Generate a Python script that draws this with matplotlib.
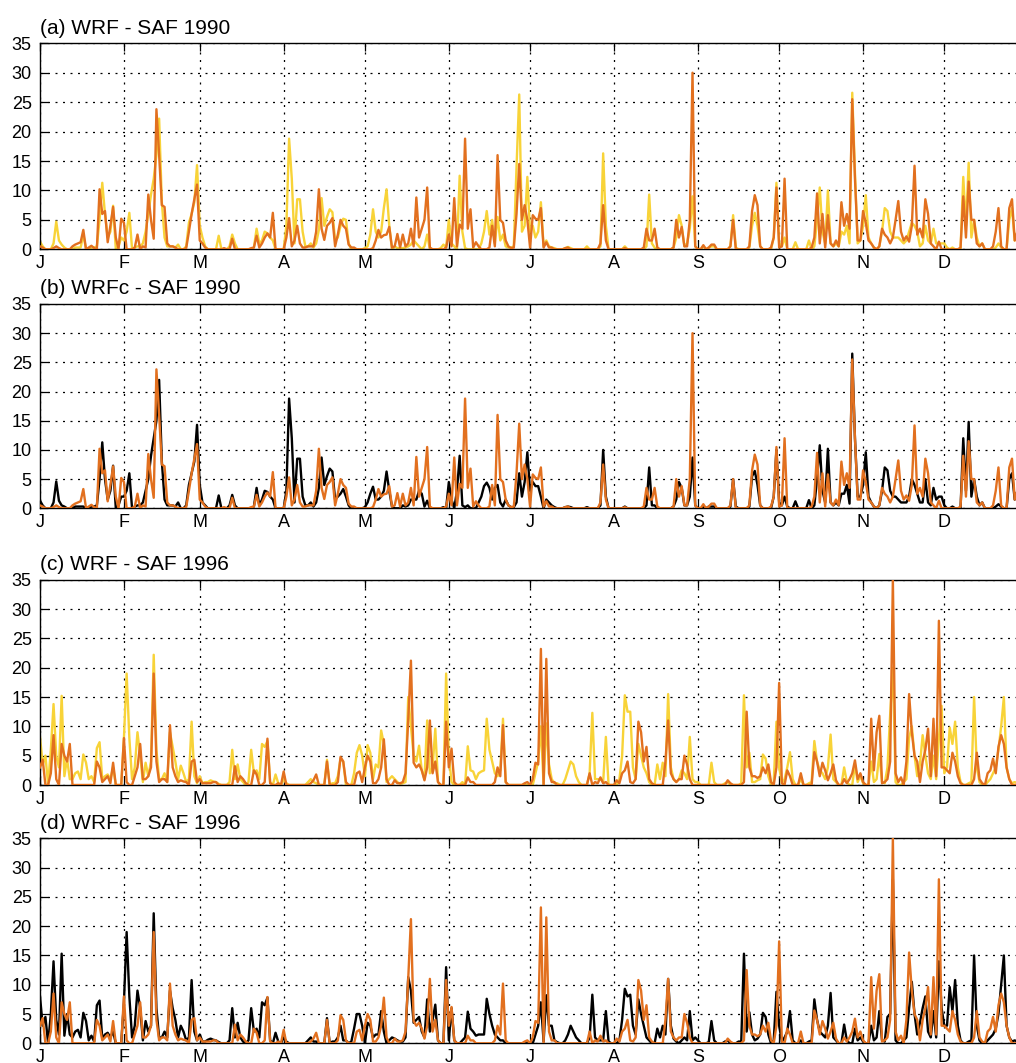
import numpy as np
import matplotlib
matplotlib.use("Agg")
import matplotlib.pyplot as plt

plt.rcParams["font.family"] = ["Liberation Sans", "DejaVu Sans"]

# Daily precipitation (mm/day), Jan 1 .. Dec 31, ten days per row
saf_1990 = [
    0.5, 0.3, 0, 0, 0, 0.2, 0.5, 0.2, 0, 0,
    0, 0, 0.5, 0.8, 1.0, 1.2, 3.3, 0, 0.3, 0.6,
    0.2, 0, 10.2, 6.0, 6.5, 1.2, 4.0, 7.2, 2.0, 0,
    5.2, 4.5, 0, 0, 0, 0.3, 2.5, 0, 0.5, 0.3,
    9.3, 5.0, 1.8, 23.8, 16.0, 7.5, 7.2, 1.0, 0.5, 0.5,
    0.3, 0, 0, 0, 0.2, 3.0, 6.0, 8.5, 11.0, 1.5,
    1.0, 0.3, 0, 0, 0, 0, 0, 0, 0.2, 0,
    0, 1.8, 0, 0, 0, 0, 0, 0, 0.2, 0.3,
    2.3, 0.3, 1.0, 2.0, 2.7, 2.0, 6.2, 0, 0, 0,
    0, 2.0, 5.3, 0.5, 1.5, 4.0, 1.0, 0.3, 0.3, 0.5,
    0.5, 0.5, 3.0, 10.2, 3.5, 1.6, 4.0, 4.5, 5.3, 0.5,
    2.5, 5.0, 4.0, 3.5, 0.8, 0.3, 0.3, 0, 0, 0,
    0, 0, 0, 0.2, 1.5, 3.3, 2.0, 2.4, 2.5, 3.8,
    0.3, 0.5, 2.6, 0.3, 2.5, 0.5, 1.0, 3.5, 0.5, 8.8,
    2.0, 3.5, 5.0, 10.5, 0.3, 0, 0, 0, 0, 0,
    0.3, 2.5, 0.5, 8.7, 0.5, 4.2, 3.5, 18.8, 3.5, 6.8,
    0.3, 1.2, 0.5, 0, 0, 0, 0.3, 4.0, 0.5, 16.0,
    5.0, 4.5, 1.5, 0.5, 0.2, 0.3, 6.0, 14.5, 5.0, 7.5,
    5.0, 0.3, 5.8, 5.2, 5.0, 7.0, 0.3, 1.2, 0.3, 0.3,
    0, 0, 0, 0, 0.2, 0.3, 0, 0, 0, 0,
    0, 0, 0, 0, 0, 0, 0, 1.0, 7.5, 1.5,
    0, 0, 0, 0, 0, 0, 0.2, 0, 0, 0,
    0, 0, 0, 0.3, 3.5, 1.5, 1.5, 3.5, 0.3, 0,
    0, 0, 0, 0, 0.3, 5.0, 2.0, 3.8, 0.5, 0.5,
    5.0, 30.0, 0.5, 0, 0, 0.7, 0, 0.3, 0.8, 0.8,
    0, 0, 0, 0, 0, 0.5, 5.0, 0, 0, 0,
    0, 0, 0.5, 6.5, 9.2, 7.5, 0.5, 0, 0, 0,
    0.3, 2.0, 10.5, 0.3, 0.5, 12.0, 0, 0, 0, 0,
    0, 0, 0, 0, 0, 0.3, 2.0, 9.5, 1.0, 6.0,
    0.3, 5.8, 1.0, 0.5, 1.5, 0.5, 8.0, 4.0, 6.0, 3.5,
    25.5, 12.0, 1.5, 1.5, 6.5, 4.5, 1.5, 1.0, 0.3, 0,
    0.5, 3.5, 2.5, 2.0, 1.0, 2.0, 5.0, 8.2, 3.0, 1.5,
    2.2, 1.3, 4.0, 14.2, 2.5, 3.5, 2.0, 8.5, 6.0, 1.0,
    0.5, 0, 1.3, 0, 0, 0, 0, 0, 0, 0,
    0.3, 9.0, 2.0, 11.5, 5.0, 5.0, 1.0, 0.5, 1.0, 0,
    0, 0, 0.5, 3.0, 7.0, 0.5, 0, 0, 7.0, 8.5,
    1.5, 3.0, 5.0, 2.0, 1.0,
]

wrf_1990 = [
    1.3, 0.5, 0, 0, 0, 1.0, 4.7, 1.5, 0.8, 0.3,
    0, 0, 0, 0.3, 0.3, 0.3, 2.5, 0, 0, 0.3,
    0.3, 0.5, 5.0, 11.3, 6.0, 2.0, 3.0, 7.4, 0, 0.5,
    2.0, 1.5, 3.0, 6.2, 0, 0.3, 0.5, 0.5, 1.0, 3.0,
    6.0, 9.3, 12.0, 16.0, 22.2, 8.0, 2.0, 0.5, 0.5, 0.5,
    0.3, 0.8, 0, 0, 0.5, 4.5, 6.0, 8.0, 14.3, 4.0,
    2.0, 0.5, 0, 0, 0, 0, 2.3, 0, 0, 0,
    0.5, 2.5, 1.0, 0, 0, 0, 0, 0, 0, 0.3,
    3.5, 1.0, 1.5, 3.0, 2.7, 2.0, 1.5, 0, 0, 0,
    0, 4.0, 18.8, 12.0, 1.0, 8.5, 8.5, 3.0, 0.5, 0.5,
    1.0, 0.3, 1.0, 3.3, 8.7, 4.0, 5.5, 6.8, 6.3, 1.5,
    2.0, 4.0, 5.2, 5.0, 1.0, 0, 0, 0, 0, 0,
    0.2, 0.5, 2.5, 6.8, 3.0, 2.0, 3.0, 7.0, 10.2, 4.0,
    0, 0.5, 0.2, 0.2, 0.2, 0.3, 0.5, 0.8, 1.5, 1.0,
    0.5, 0, 0.5, 2.5, 0, 0, 0, 0, 0.2, 0.8,
    0.3, 5.0, 1.0, 0.5, 0, 12.5, 3.0, 0.2, 0, 0,
    0, 0, 0, 1.0, 3.0, 6.5, 2.5, 5.0, 1.0, 5.5,
    1.5, 2.5, 0.5, 0.3, 0.3, 0.5, 14.0, 26.3, 3.0, 4.0,
    12.3, 3.0, 4.0, 2.0, 3.0, 8.0, 0.5, 1.5, 0.5, 0.3,
    0.2, 0, 0, 0, 0.2, 0.4, 0.2, 0, 0, 0,
    0, 0, 0.5, 0, 0, 0, 0, 0.5, 16.3, 4.0,
    0, 0, 0, 0, 0, 0, 0.5, 0, 0, 0,
    0, 0, 0, 0, 0.5, 9.3, 1.0, 0.3, 0, 0,
    0, 0, 0, 0, 0.3, 2.0, 5.8, 4.0, 0.5, 1.0,
    3.5, 9.0, 0.5, 0, 0, 0.5, 0, 0.3, 0.5, 0.5,
    0, 0, 0, 0, 0, 0.5, 5.8, 0.3, 0, 0,
    0, 0, 0.3, 4.0, 6.2, 4.0, 0.5, 0, 0, 0,
    0, 2.0, 11.3, 1.0, 0.5, 2.0, 0, 0, 0, 1.2,
    0, 0, 0, 0, 1.5, 0, 0.5, 5.0, 10.5, 3.0,
    1.0, 10.0, 1.0, 0.5, 1.0, 0.5, 3.0, 2.5, 4.0, 1.0,
    26.6, 13.0, 1.0, 1.5, 4.0, 9.2, 2.0, 1.0, 0.3, 0,
    0.5, 3.0, 7.0, 6.5, 3.0, 2.0, 2.0, 2.0, 1.5, 1.0,
    1.5, 3.0, 4.5, 4.0, 3.0, 0.5, 1.0, 4.0, 1.5, 1.0,
    3.5, 1.0, 1.0, 1.0, 1.0, 0.3, 0, 0.3, 0, 0,
    0, 12.3, 4.0, 14.7, 2.0, 5.0, 2.0, 0.5, 1.0, 0,
    0, 0, 0, 0.3, 1.0, 0.3, 0, 0, 5.0, 7.0,
    1.5, 3.0, 5.0, 2.0, 1.0,
]

wrfc_1990 = [
    1.3, 0.5, 0, 0, 0, 1.0, 4.6, 1.3, 0.5, 0.3,
    0, 0, 0, 0.3, 0.3, 0.3, 0.3, 0, 0, 0.3,
    0.3, 0.5, 5.0, 11.3, 5.0, 1.5, 3.0, 7.3, 0, 0.5,
    2.0, 2.0, 3.0, 6.0, 0, 0.3, 0.5, 0.5, 1.0, 3.0,
    5.0, 9.0, 12.0, 15.0, 22.0, 8.0, 1.5, 0.5, 0.5, 0.5,
    0.3, 1.0, 0, 0, 0.5, 4.0, 6.0, 8.0, 14.3, 4.0,
    1.0, 0.5, 0, 0, 0, 0, 2.2, 0, 0, 0,
    0.5, 2.3, 0.5, 0, 0, 0, 0, 0, 0, 0.3,
    3.5, 0.5, 1.5, 3.0, 2.8, 2.0, 1.5, 0, 0, 0,
    0, 3.0, 18.8, 12.0, 1.0, 8.5, 8.5, 2.0, 0.5, 0.5,
    1.0, 0.3, 1.0, 3.5, 8.7, 4.0, 5.5, 6.8, 6.3, 1.5,
    2.0, 2.5, 3.3, 2.0, 0.5, 0, 0, 0, 0, 0,
    0.2, 1.0, 2.5, 3.7, 1.5, 1.5, 2.0, 3.0, 6.3, 3.0,
    0.3, 0, 0, 0, 0.5, 0.3, 0.5, 1.5, 1.5, 1.5,
    3.0, 2.5, 0.3, 1.3, 0, 0, 0, 0, 0, 0.2,
    0, 4.5, 1.5, 0, 3.0, 9.0, 0.5, 0.2, 0.5, 0,
    0, 0, 1.0, 2.0, 3.8, 4.4, 3.5, 1.5, 3.5, 4.0,
    1.0, 0.3, 1.5, 0.5, 0.2, 0.2, 1.0, 6.0, 2.0, 4.5,
    9.6, 3.0, 4.5, 3.8, 3.8, 2.0, 0, 1.5, 1.0, 0.5,
    0.2, 0, 0, 0, 0.2, 0.3, 0.2, 0, 0, 0,
    0, 0, 0.2, 0, 0, 0, 0, 0.5, 10.0, 2.0,
    0, 0, 0, 0, 0, 0, 0.3, 0, 0, 0,
    0, 0, 0, 0, 0.5, 7.0, 0.5, 0.5, 0, 0,
    0, 0, 0, 0, 0.3, 1.5, 4.5, 3.5, 0.5, 0.5,
    2.0, 8.7, 0.5, 0, 0, 0.3, 0, 0.3, 0.3, 0.3,
    0, 0, 0, 0, 0, 0.3, 5.0, 0.3, 0, 0,
    0, 0, 0.3, 5.5, 6.4, 4.0, 0.5, 0, 0, 0,
    0, 2.0, 10.0, 1.0, 0.5, 2.0, 0.3, 0, 0, 1.2,
    0, 0, 0, 0, 1.4, 0, 0.5, 5.0, 10.8, 3.0,
    1.0, 10.2, 1.0, 0.5, 1.0, 0.5, 2.5, 2.5, 4.0, 0.8,
    26.5, 12.0, 2.0, 2.0, 4.0, 9.6, 2.0, 1.0, 0.3, 0,
    0.5, 3.0, 7.0, 6.5, 3.0, 2.0, 2.0, 1.5, 1.0, 1.0,
    1.0, 2.0, 5.0, 4.0, 2.5, 1.0, 1.0, 5.0, 1.0, 0.5,
    3.5, 1.5, 2.0, 2.0, 0.5, 0, 0, 0.3, 0, 0,
    0, 12.0, 3.0, 14.8, 2.0, 5.0, 2.0, 0.5, 1.0, 0,
    0, 0, 0, 0.3, 0.7, 0.3, 0, 0, 5.0, 6.0,
    1.5, 3.0, 4.0, 2.0, 1.0,
]

saf_1996 = [
    3.0, 4.3, 0, 0, 2.0, 8.5, 1.0, 0, 7.0, 5.0,
    4.0, 7.0, 0, 0, 0, 0, 0, 0, 0, 0,
    0, 4.0, 3.0, 0.5, 1.0, 1.5, 0.3, 3.8, 0, 0,
    0, 8.0, 0.5, 0, 0, 1.5, 3.0, 7.0, 1.0, 1.0,
    1.5, 3.0, 19.0, 4.0, 0.5, 1.0, 1.0, 0.5, 10.2, 3.0,
    1.5, 0.5, 0.8, 0.6, 0.5, 0, 4.0, 4.3, 0.5, 1.0,
    0.3, 0.3, 0.3, 0.3, 0.5, 0.5, 0, 0, 0, 0,
    0, 0, 3.2, 0.5, 1.5, 1.0, 0.3, 0, 0, 2.5,
    1.8, 0, 0, 0.5, 7.9, 0.3, 0, 0, 0.3, 0,
    2.3, 0, 0, 0, 0, 0, 0, 0, 0, 0,
    0.3, 0.8, 1.8, 0, 0, 0, 4.0, 0, 0, 0,
    0.5, 4.8, 4.0, 0.5, 0, 0, 0, 2.0, 2.3, 0.5,
    3.0, 5.0, 4.0, 0.3, 0.3, 1.0, 3.0, 7.8, 1.0, 0,
    0, 0.8, 0.3, 0.3, 0.5, 2.0, 11.0, 21.2, 3.8, 3.0,
    3.5, 2.5, 0.8, 3.0, 11.0, 2.0, 4.0, 0.5, 0, 0,
    10.8, 3.0, 6.2, 0.5, 0, 0, 0, 0, 1.3, 0.5,
    0.5, 0, 0, 0, 0, 0, 0, 0, 0.5, 3.0,
    1.5, 10.2, 0.5, 0, 0, 0, 0, 0, 0, 0.3,
    0.5, 0, 1.0, 3.8, 3.5, 23.2, 0, 21.5, 2.0, 0.5,
    0.5, 0, 0, 0, 0, 0, 0, 0, 0, 0,
    0, 0, 0, 2.0, 0, 0.5, 0.3, 1.3, 0.3, 0.5,
    0, 0, 0, 0.8, 0.3, 2.0, 2.5, 4.0, 0.5, 0.3,
    1.0, 10.8, 9.0, 4.0, 6.5, 1.0, 0.3, 0, 0, 0,
    0, 4.0, 11.0, 2.0, 1.0, 0.5, 1.0, 1.0, 5.0, 3.5,
    1.0, 0, 0, 0, 0, 0, 0, 0, 0, 0,
    0, 0, 0, 0, 0.8, 0.3, 0, 0, 0, 0,
    0.5, 12.5, 3.0, 1.5, 1.5, 1.2, 1.5, 3.0, 2.0, 3.5,
    0.5, 0, 3.0, 17.4, 0.3, 0, 2.5, 1.5, 0, 0,
    0, 2.0, 0, 0, 0, 0, 5.6, 4.0, 1.5, 3.8,
    2.5, 0.8, 2.0, 3.5, 0.8, 0, 0, 1.0, 0.3, 1.0,
    2.0, 4.2, 1.0, 2.0, 0.5, 0, 0, 11.3, 2.5, 9.0,
    11.8, 0.3, 0.5, 1.0, 4.0, 35.0, 2.0, 0.5, 1.3, 0,
    4.0, 15.5, 9.0, 5.0, 4.0, 0.5, 4.0, 6.0, 9.6, 1.5,
    11.3, 1.5, 28.0, 3.0, 3.0, 2.5, 2.0, 5.5, 4.0, 1.5,
    0.3, 0, 0, 0, 0, 1.0, 5.5, 1.0, 0.3, 0,
    2.0, 2.5, 4.5, 2.0, 6.5, 8.5, 7.0, 3.0, 1.0, 0,
    0, 0, 0.3, 0.5, 0.3,
]

wrf_1996 = [
    8.2, 3.5, 5.0, 0, 6.0, 13.8, 5.0, 3.0, 15.2, 1.5,
    4.5, 1.0, 1.0, 2.0, 2.3, 1.0, 5.2, 3.8, 1.0, 1.5,
    0.5, 6.3, 7.3, 1.0, 1.5, 1.8, 1.0, 3.0, 0, 0,
    0, 8.0, 19.0, 8.0, 1.0, 3.0, 9.0, 5.0, 0.5, 3.8,
    1.5, 4.0, 22.2, 6.0, 1.0, 1.0, 2.0, 0.5, 9.0, 6.5,
    4.0, 1.0, 3.3, 2.0, 0.5, 1.0, 10.8, 1.5, 0.3, 1.5,
    0.3, 0.5, 0.5, 0.8, 0.6, 0.5, 0.2, 0, 0, 0,
    0.5, 6.0, 1.0, 3.5, 1.0, 0.5, 0, 0.5, 6.0, 2.0,
    2.5, 1.0, 7.0, 6.5, 7.5, 0.5, 0, 1.8, 0.3, 0,
    1.0, 0.3, 0, 0, 0, 0, 0, 0, 0, 0.5,
    1.0, 0.5, 0.3, 0, 0, 0, 4.3, 0, 0.3, 0.3,
    1.5, 4.5, 4.0, 0, 0, 0, 2.0, 5.5, 6.8, 5.0,
    1.5, 6.8, 5.5, 1.0, 3.5, 3.0, 9.3, 7.0, 0.5, 1.0,
    1.5, 1.0, 0.5, 0.2, 0.3, 0.5, 15.0, 10.0, 5.0, 4.0,
    6.7, 2.5, 1.0, 11.0, 2.0, 3.0, 9.6, 0.5, 0, 0,
    19.0, 5.0, 0.5, 0, 0, 0, 0.5, 0, 6.6, 2.5,
    2.3, 1.0, 2.0, 2.3, 2.5, 11.3, 6.0, 4.0, 2.0, 1.5,
    2.5, 11.3, 0.5, 0, 0, 0, 0, 0, 0, 0,
    0, 0, 0, 2.0, 4.0, 10.0, 0, 10.5, 3.5, 1.0,
    0.3, 0.3, 0, 0, 1.0, 2.5, 4.0, 3.5, 1.5, 0.5,
    0, 0, 0, 2.0, 12.3, 1.0, 1.0, 1.0, 0.5, 8.2,
    0, 0, 0, 0, 1.0, 5.0, 15.3, 12.5, 12.5, 3.0,
    1.0, 7.0, 5.0, 3.0, 2.0, 0.5, 0, 0, 3.5, 1.0,
    3.8, 1.5, 15.5, 3.0, 1.0, 0.5, 1.0, 2.5, 2.0, 1.0,
    8.2, 1.0, 0.5, 0.5, 0, 0, 0, 0, 3.8, 0.5,
    0, 0, 0, 0.3, 0.5, 0, 0, 0, 0, 0.3,
    15.3, 3.0, 5.5, 0.5, 0.5, 0.8, 1.0, 5.2, 4.5, 1.5,
    0, 0.5, 10.8, 3.0, 0.3, 1.0, 3.0, 5.6, 1.0, 0,
    0, 1.0, 0, 0, 0.3, 0.5, 7.5, 4.0, 2.5, 2.0,
    1.0, 3.0, 8.6, 1.0, 0.5, 0, 0, 3.0, 0.5, 0,
    0, 3.5, 0.5, 1.5, 0.3, 0, 0, 4.0, 0.5, 1.0,
    5.3, 0.5, 0.3, 3.0, 12.0, 20.0, 0.5, 0, 0, 0.5,
    1.0, 8.0, 10.0, 5.0, 1.5, 3.5, 8.5, 5.0, 2.0, 1.0,
    5.0, 1.0, 8.0, 13.5, 2.0, 3.0, 9.8, 7.0, 10.8, 3.0,
    0.5, 0, 0, 0.3, 0.5, 15.0, 3.0, 0.5, 0, 0,
    0.5, 1.0, 2.0, 3.0, 6.0, 10.0, 15.0, 3.0, 1.0, 0.3,
    0.5, 0.3, 0.3, 0.3, 0.3,
]

wrfc_1996 = [
    8.0, 3.0, 4.5, 0, 5.0, 14.0, 4.0, 1.5, 15.3, 1.3,
    5.0, 1.5, 1.0, 2.0, 2.3, 1.0, 5.2, 3.8, 0.5, 1.3,
    0.3, 6.5, 7.3, 0.8, 1.5, 1.8, 1.0, 2.0, 0, 0,
    0, 7.0, 19.0, 8.0, 1.0, 3.0, 9.0, 6.0, 0.5, 3.8,
    2.0, 3.0, 22.2, 6.0, 1.0, 1.0, 2.0, 1.0, 9.0, 6.0,
    4.0, 1.0, 3.0, 2.0, 0.5, 1.0, 10.8, 2.0, 0.5, 1.5,
    0.3, 0.3, 0.6, 0.8, 0.6, 0.5, 0.2, 0, 0, 0,
    0.5, 6.0, 1.0, 3.5, 1.0, 0.3, 0, 0.5, 6.0, 2.0,
    2.5, 1.0, 7.0, 6.5, 7.8, 0.5, 0, 1.8, 0.3, 0,
    1.0, 0.3, 0, 0, 0, 0, 0, 0, 0, 0.5,
    1.0, 0.3, 0.3, 0, 0, 0, 4.3, 0, 0.3, 0.3,
    1.0, 3.0, 0.5, 0.5, 0, 0.3, 2.5, 5.0, 5.0, 3.0,
    0, 3.5, 3.0, 1.0, 1.5, 1.5, 5.5, 2.0, 0, 0.5,
    1.0, 0.8, 0.5, 0.3, 0.3, 1.0, 11.3, 9.0, 3.5, 4.0,
    4.5, 2.0, 1.0, 7.5, 2.0, 4.0, 6.6, 0.5, 0, 0,
    13.0, 0.5, 6.0, 0.5, 0, 0, 0.5, 1.0, 5.4, 2.5,
    2.0, 1.3, 1.5, 1.5, 1.5, 7.6, 5.0, 3.0, 1.5, 1.0,
    0.5, 0.5, 0, 0, 0, 0, 0, 0, 0, 0,
    0, 0, 0, 1.5, 3.0, 7.0, 0.3, 8.2, 3.0, 3.0,
    0.5, 0.2, 0, 0, 0.5, 1.5, 3.0, 2.0, 1.0, 0.5,
    0, 0, 0, 1.0, 8.3, 1.0, 0.5, 0.5, 0.5, 5.5,
    0.3, 0, 0, 0, 0.5, 4.0, 9.3, 8.0, 8.3, 3.0,
    1.5, 7.5, 5.0, 3.0, 1.0, 0.5, 0, 0, 2.5, 1.0,
    3.0, 1.5, 11.0, 3.0, 0.8, 0.3, 0, 0.5, 1.0, 0.5,
    5.5, 0.5, 1.0, 0.5, 0, 0, 0, 0.2, 3.8, 0.5,
    0, 0, 0, 0.3, 0.5, 0, 0, 0, 0.3, 0.3,
    15.3, 2.0, 5.3, 1.5, 0.5, 0.8, 1.5, 5.2, 4.5, 1.5,
    0, 0.5, 8.8, 3.0, 0.3, 1.0, 2.0, 5.5, 0.5, 0,
    0, 0.5, 0, 0, 0.3, 0.5, 7.5, 4.0, 2.0, 1.5,
    1.0, 3.0, 8.6, 1.0, 0.5, 0, 0, 3.2, 0.5, 0,
    0, 2.5, 0.5, 1.0, 0.3, 0, 0, 3.0, 0.5, 1.0,
    5.5, 0.5, 0.3, 4.5, 5.0, 28.0, 0.5, 0, 0, 0.5,
    1.0, 6.0, 10.5, 5.0, 1.5, 3.5, 6.0, 8.0, 2.0, 1.0,
    5.5, 1.0, 14.0, 6.0, 3.0, 3.0, 9.6, 5.5, 10.8, 3.0,
    0.5, 0, 0, 0.3, 0.5, 15.0, 3.0, 0.5, 0, 0,
    0.5, 1.0, 1.5, 2.5, 5.0, 10.0, 15.0, 3.0, 1.0, 0.3,
    0.5, 0.3, 0.3, 0.3, 0.3,
]

month_start = [0, 31, 59, 90, 120, 151, 181, 212, 243, 273, 304, 334]
month_labels = ["J", "F", "M", "A", "M", "J", "J", "A", "S", "O", "N", "D"]
y_ticks = [0, 5, 10, 15, 20, 25, 30, 35]

titles = ["(a) WRF - SAF 1990", "(b) WRFc - SAF 1990",
          "(c) WRF - SAF 1996", "(d) WRFc - SAF 1996"]

ORANGE = "#e2701f"
YELLOW = "#f8d338"
BLACK = "#000000"

for name, s in [("saf_1990", saf_1990), ("wrf_1990", wrf_1990), ("wrfc_1990", wrfc_1990),
                ("saf_1996", saf_1996), ("wrf_1996", wrf_1996), ("wrfc_1996", wrfc_1996)]:
    print(name, len(s))

W, H = 1016, 1063
fig = plt.figure(figsize=(W / 100, H / 100), dpi=100)

# panel frames in pixels: (top, bottom); x axis runs off the right edge
x_left = 40
x_width = 365 * 2.7075
frames = [(43.3, 249.3), (304.0, 508.3), (579.7, 785.0), (838.3, 1043.3)]
models = [(wrf_1990, YELLOW), (wrfc_1990, BLACK), (wrf_1996, YELLOW), (wrfc_1996, BLACK)]
obs = [saf_1990, saf_1990, saf_1996, saf_1996]

for i in range(4):
    top, bot = frames[i]
    ax = fig.add_axes([x_left / W, 1 - bot / H, x_width / W, (bot - top) / H])
    model, color = models[i]
    ax.plot(np.arange(len(model)), model, color=color, lw=1.7, zorder=2)
    ax.plot(np.arange(len(obs[i])), obs[i], color=ORANGE, lw=1.7, zorder=3)

    ax.set_xlim(0, 365)
    ax.set_ylim(0, 35)
    ax.set_xticks(month_start)
    ax.set_xticklabels(month_labels)
    ax.set_yticks(y_ticks)
    ax.grid(True, color="black", linestyle=(0, (1.6, 4.4)), linewidth=0.9)
    ax.tick_params(direction="in", top=True, right=True, length=6, width=0.9,
                   labelsize=13, pad=4)
    ax.tick_params(axis="y", pad=6)
    for sp in ax.spines.values():
        sp.set_linewidth(1.0)
    ax.set_title(titles[i], loc="left", fontsize=15, pad=7)

plt.savefig("out.png", dpi=100)
